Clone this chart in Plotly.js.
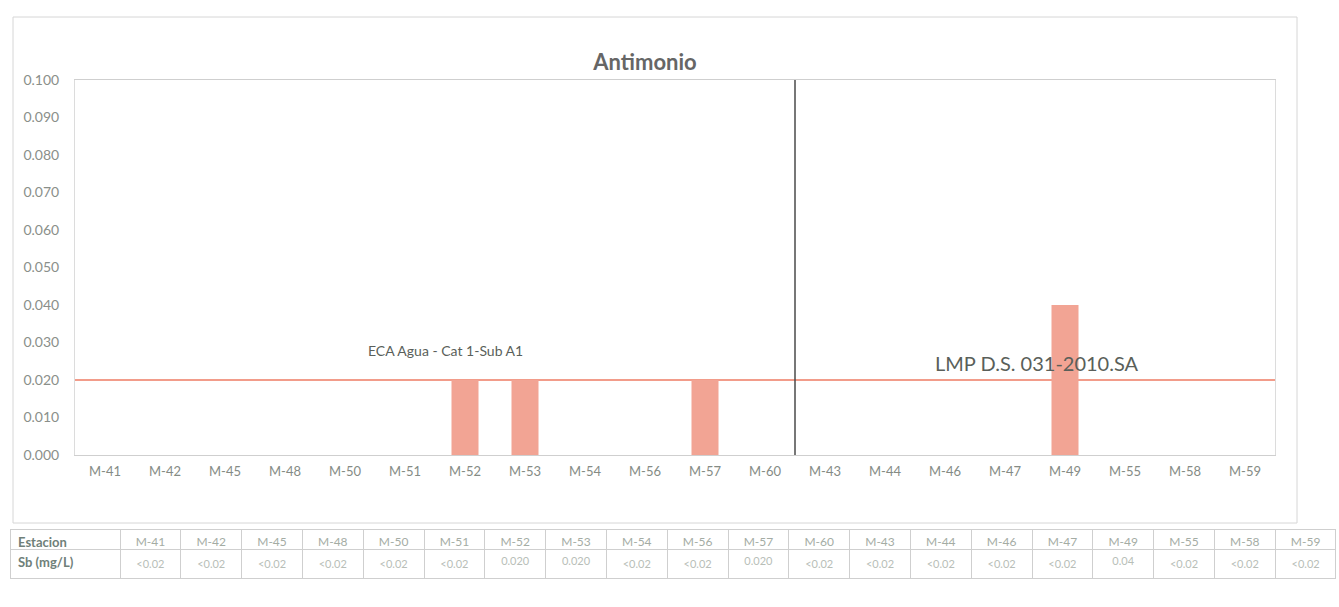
<!DOCTYPE html>
<html>
<head>
<meta charset="utf-8">
<script src="https://cdn.plot.ly/plotly-3.0.1.min.js"></script>
<style>html,body{margin:0;padding:0;background:#fff;}#chart{width:1339px;height:607px;}</style>
</head>
<body>
<div id="chart"></div>
<script>
// ---- data ----
const stations = ["M-41","M-42","M-45","M-48","M-50","M-51","M-52","M-53","M-54","M-56","M-57","M-60",
                  "M-43","M-44","M-46","M-47","M-49","M-55","M-58","M-59"];
const sbValues = [null,null,null,null,null,null,0.020,0.020,null,null,0.020,null,
                  null,null,null,null,0.04,null,null,null];
const sbTableText = ["<0.02","<0.02","<0.02","<0.02","<0.02","<0.02","0.020","0.020","<0.02","<0.02","0.020","<0.02",
                     "<0.02","<0.02","<0.02","<0.02","0.04","<0.02","<0.02","<0.02"];
const groupEcaCount = 12;         // first 12 stations compared with ECA
const ecaLimit = 0.02;            // ECA Agua - Cat 1-Sub A1
const lmpLimit = 0.02;            // LMP D.S. 031-2010.SA
const yTicks = [0,0.01,0.02,0.03,0.04,0.05,0.06,0.07,0.08,0.09,0.10];
const yTickText = ["0.000","0.010","0.020","0.030","0.040","0.050","0.060","0.070","0.080","0.090","0.100"];

const W = 1339, H = 607;
const px = v => v / W, py = v => 1 - v / H;
const font = "Lato, 'Open Sans', sans-serif";

const bars = {
  type: 'bar', x: stations, y: sbValues,
  marker: {color: '#F2A494'}, hoverinfo: 'x+y',
  xaxis: 'x', yaxis: 'y'
};

const table = {
  type: 'table',
  domain: {x: [px(10), px(1336)], y: [py(590), py(529)]},
  columnwidth: [110].concat(stations.map(() => 60.8)),
  header: {
    values: ["Estacion"].concat(stations),
    align: ['left'].concat(stations.map(() => 'center')),
    height: 20,
    fill: {color: '#ffffff'},
    line: {color: '#cfcfcf', width: 1},
    font: {family: font, size: [13].concat(stations.map(() => 12)),
           weight: ['bold'].concat(stations.map(() => 'normal')),
           color: ['#6f8079'].concat(stations.map(() => '#a4aca4'))}
  },
  cells: {
    values: [["Sb (mg/L)"]].concat(sbTableText.map(t => [t])),
    align: ['left'].concat(stations.map(() => 'center')),
    height: 20,
    fill: {color: '#ffffff'},
    line: {color: '#cfcfcf', width: 1},
    font: {family: font, size: [13].concat(stations.map(() => 11)),
           weight: ['bold'].concat(stations.map(() => 'normal')),
           color: ['#6f8079'].concat(stations.map(() => '#b8beb8'))}
  }
};

const layout = {
  width: W, height: H,
  margin: {l: 0, r: 0, t: 0, b: 0},
  paper_bgcolor: '#ffffff', plot_bgcolor: '#ffffff',
  showlegend: false,
  bargap: 0.55,
  font: {family: font, color: '#777'},
  title: {text: 'Antimonio', x: px(645), xanchor: 'center', y: py(62), yanchor: 'middle',
          font: {family: font, size: 22, color: '#666', weight: 'bold'}},
  xaxis: {
    domain: [px(75), px(1275)], type: 'category', automargin: false,
    showline: true, linecolor: '#cfcfcf', linewidth: 1, mirror: true,
    showgrid: false, ticks: '', ticklabelstandoff: 4,
    tickfont: {family: font, size: 13, color: '#858b85'}, fixedrange: true
  },
  yaxis: {
    domain: [py(455), py(80)], range: [0, 0.1], automargin: false,
    tickvals: yTicks, ticktext: yTickText,
    showline: true, linecolor: '#dcdcdc', linewidth: 1, mirror: true,
    showgrid: false, zeroline: false, ticks: '', ticklabelstandoff: 12,
    tickfont: {family: font, size: 14, color: '#8a8f8a'}, fixedrange: true
  },
  shapes: [
    {type: 'line', xref: 'x domain', yref: 'y', x0: 0, x1: 1, y0: ecaLimit, y1: lmpLimit,
     line: {color: '#F29C8A', width: 2}, layer: 'below'},
    {type: 'line', xref: 'x', yref: 'y domain', x0: groupEcaCount - 0.5, x1: groupEcaCount - 0.5, y0: 0, y1: 1,
     line: {color: '#4a4a4a', width: 1.5}},
    {type: 'rect', xref: 'paper', yref: 'paper', x0: px(13), x1: px(1297), y0: py(523), y1: py(17),
     line: {color: '#d6d6d6', width: 1}, layer: 'below'}
  ],
  annotations: [
    {text: 'ECA Agua - Cat 1-Sub A1', xref: 'x', yref: 'y', x: 5.67, y: 0.028, showarrow: false,
     font: {family: font, size: 14, color: '#5a5f5a'}},
    {text: 'LMP D.S. 031-2010.SA', xref: 'x', yref: 'y', x: 15.53, y: 0.0245, showarrow: false,
     font: {family: font, size: 20, color: '#5a5f5a'}}
  ]
};

Plotly.newPlot('chart', [bars, table], layout, {displayModeBar: false, staticPlot: true});
</script>
</body>
</html>
